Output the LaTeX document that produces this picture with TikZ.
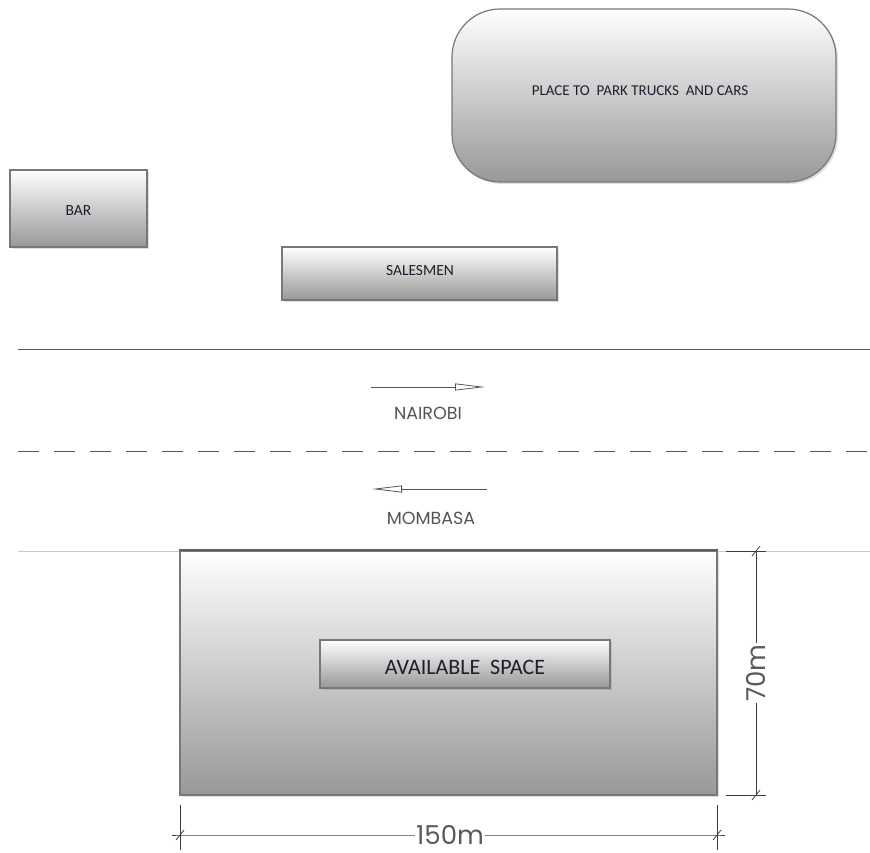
\documentclass[tikz,border=0pt]{standalone}
\usepackage{fontspec}
\setmainfont{Carlito}
\newfontfamily\gothic{Poppins}
\usetikzlibrary{arrows.meta,shadows}
\definecolor{boxline}{RGB}{120,120,120}
\definecolor{boxbot}{RGB}{152,152,152}
\definecolor{boxtxt}{RGB}{30,30,45}
\definecolor{roadc}{RGB}{85,85,85}
\definecolor{lightroad}{RGB}{200,200,200}
\definecolor{dimc}{RGB}{60,60,60}
\definecolor{dimtxt}{RGB}{90,90,90}
\begin{document}
\begin{tikzpicture}[x=1pt,y=-1pt,
  box/.style={draw=boxline, line width=1.2pt, top color=white, bottom color=boxbot,
    drop shadow={opacity=0.25,shadow xshift=2pt,shadow yshift=-2pt},
    inner sep=0pt},
  boxlabel/.style={text=boxtxt, inner sep=0pt},
  road/.style={line width=0.9pt, draw=roadc},
  dir/.style={line width=0.8pt, draw=roadc, -{Triangle[open,length=30pt,width=7pt]}},
  dirlabel/.style={font=\gothic\fontsize{17.5}{17.5}\selectfont, text=roadc, inner sep=0pt},
  dimline/.style={line width=0.8pt, draw=dimc},
  dimlabel/.style={font=\gothic\fontsize{26}{26}\selectfont, text=dimtxt, fill=white, inner sep=1pt}
]
\useasboundingbox (0,0) rectangle (870,853);

% boxes
\node[box, rounded corners=48pt, minimum width=384pt, minimum height=173pt] (park) at (644,95.5) {};
\node[boxlabel, font=\fontsize{15}{17}\selectfont] (parkt) at (640,91) {PLACE TO\ \ PARK TRUCKS\ \ AND CARS};
\node[box, minimum width=137pt, minimum height=77pt] (bar) at (78.5,208.5) {};
\node[boxlabel, font=\fontsize{15.5}{17}\selectfont] (bart) at (78.5,211) {BAR};
\node[box, minimum width=275pt, minimum height=53pt] (sales) at (419.5,273.5) {};
\node[boxlabel, font=\fontsize{15.5}{17}\selectfont] (salest) at (420,271) {SALESMEN};

% road
\draw[road] (18,349) coordinate (r1a) -- (870,349) coordinate (r1b);
\draw[road, dash pattern=on 21pt off 15pt] (18,451) coordinate (r2a) -- (870,451) coordinate (r2b);
\draw[line width=0.8pt, draw=lightroad] (18,551) coordinate (r3a) -- (870,551) coordinate (r3b);

\coordinate (na) at (371,387);
\coordinate (nb) at (485,387);
\draw[dir] (na) -- (nb);
\node[dirlabel] (nairobi) at (428,413) {NAIROBI};
\coordinate (ma) at (487,489);
\coordinate (mb) at (372,489);
\draw[dir] (ma) -- (mb);
\node[dirlabel] (mombasa) at (431,518) {MOMBASA};

% available area
\node[box, minimum width=537pt, minimum height=244pt] (area) at (448.5,673) {};
\draw[line width=2pt, draw=boxline!80!black] (area.north west) -- (area.north east);
\node[box, minimum width=290pt, minimum height=48pt] (avail) at (465,664) {};
\node[boxlabel, font=\fontsize{22}{24}\selectfont] (availt) at (465,667) {AVAILABLE\ \ SPACE};

% dimension 70m
\coordinate (v1) at (756,551);
\coordinate (v2) at (756,795);
\draw[dimline] (726,551) coordinate (e1) -- (766,551);
\draw[dimline] (726,795) coordinate (e2) -- (766,795);
\draw[dimline] (v1) -- (v2);
\draw[dimline] (v1) ++(-4,5) -- ++(8,-10);
\draw[dimline] (v2) ++(-4,5) -- ++(8,-10);
\node[dimlabel, rotate=90] (d70) at (756,673) {70m};

% dimension 150m
\coordinate (h1) at (180,835);
\coordinate (h2) at (717,835);
\draw[dimline] (180,805) -- (180,850);
\draw[dimline] (717,805) -- (717,850);
\draw[dimline] (172,835) -- (h1) -- (h2) -- (725,835);
\draw[dimline] (h1) ++(-4,5) -- ++(8,-10);
\draw[dimline] (h2) ++(-4,5) -- ++(8,-10);
\node[dimlabel] (d150) at (450,835) {150m};
\end{tikzpicture}
\end{document}
